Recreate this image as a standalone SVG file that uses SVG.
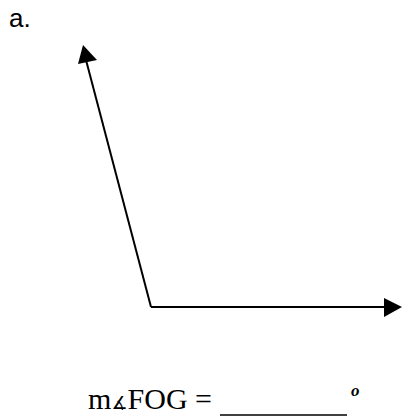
<svg xmlns="http://www.w3.org/2000/svg" width="402" height="417" viewBox="0 0 402 417">
<style>
.ray{stroke:#000;stroke-width:2;fill:none}
.head{fill:#000;stroke:none}
.serif{font-family:"Liberation Serif","DejaVu Serif",serif;fill:#000}
</style>
<rect width="402" height="417" fill="#fff"/>
<text x="9" y="27" font-family="Liberation Sans, Arial, sans-serif" font-size="26" fill="#000">a.</text>
<g id="connectors">
<line class="ray" x1="151" y1="307" x2="86" y2="60"/>
<polygon class="head" points="83,45 97,60 78,64"/>
<line class="ray" x1="151" y1="307" x2="386" y2="307"/>
<polygon class="head" points="402,307 384,298 384,317"/>
</g>
<g id="label">
<text class="serif" x="212" y="409" font-size="30" text-anchor="end">m<tspan font-size="18" font-family="DejaVu Sans, sans-serif">∡</tspan>FOG =</text>
<line x1="220" y1="415" x2="347" y2="415" stroke="#000" stroke-width="1.5"/>
<text class="serif" x="351" y="396" font-size="17" font-weight="bold" font-style="italic">o</text>
</g>
</svg>
